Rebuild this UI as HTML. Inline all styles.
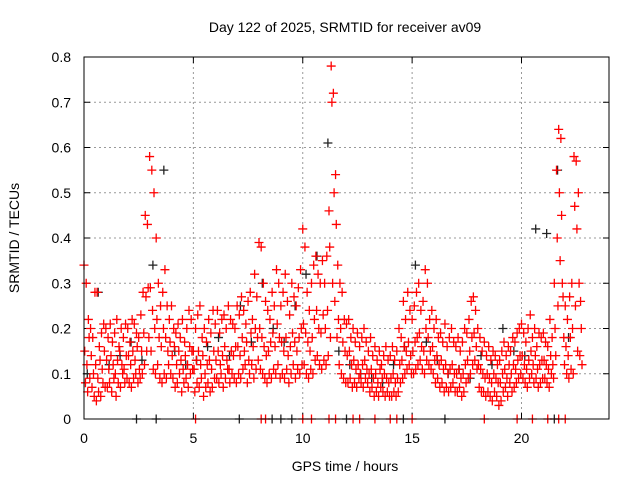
<!DOCTYPE html>
<html><head><meta charset="utf-8"><style>
body{margin:0;background:#fff}
svg{display:block;font-family:"Liberation Sans",sans-serif}
</style></head><body>
<svg id="chart" width="640" height="480">
<text x="345" y="32" text-anchor="middle" font-size="14">Day 122 of 2025, SRMTID for receiver av09</text>
<text transform="translate(19,238) rotate(-90)" text-anchor="middle" font-size="14">SRMTID / TECUs</text>
<text x="345" y="471" text-anchor="middle" font-size="14">GPS time / hours</text>
<g id="grid"></g>
<g id="ticks"></g>
<g id="black"></g>
<g id="red"></g>
<rect x="84" y="57" width="525" height="362" fill="none" stroke="#000" stroke-width="1"/>
</svg>
<script>
const xTicks=[0,5,10,15,20];
const yTicks=[0,0.1,0.2,0.3,0.4,0.5,0.6,0.7,0.8];
const yTickLabels=["0","0.1","0.2","0.3","0.4","0.5","0.6","0.7","0.8"];
const redUpper=[.34,.30,.22,.20,.18,.28,.28,.16,.19,.21,.20,.18,.21,.17,.19,.22,.16,.20,.18,.21,.20,.17,.22,.21,.19,.18,.23,.28,.45,.43,.58,.55,.50,.40,.30,.25,.28,.33,.25,.22,.25,.20,.19,.21,.18,.22,.17,.20,.24,.22,.15,.20,.23,.25,.18,.20,.17,.22,.19,.24,.21,.24,.19,.22,.23,.20,.25,.22,.21,.20,.25,.23,.27,.24,.21,.26,.28,.22,.32,.27,.39,.38,.30,.26,.24,.22,.28,.25,.33,.30,.25,.28,.32,.26,.23,.30,.27,.25,.29,.33,.42,.38,.28,.24,.30,.34,.36,.32,.30,.35,.30,.36,.46,.78,.72,.54,.34,.30,.28,.22,.21,.22,.18,.20,.17,.19,.16,.18,.20,.17,.15,.18,.14,.16,.13,.15,.12,.14,.16,.13,.14,.16,.13,.15,.20,.18,.26,.22,.28,.24,.22,.25,.28,.30,.24,.26,.33,.30,.22,.24,.20,.22,.18,.19,.17,.21,.16,.18,.20,.17,.16,.18,.15,.17,.20,.19,.22,.26,.27,.24,.20,.18,.15,.17,.14,.16,.13,.15,.14,.12,.13,.15,.17,.14,.16,.15,.18,.17,.19,.20,.21,.19,.17,.20,.23,.18,.20,.16,.19,.18,.19,.17,.16,.22,.18,.30,.55,.64,.62,.27,.25,.22,.27,.30,.58,.57,.50,.26];
const redMiddle=[.15,.12,.18,.14,.10,.12,.09,.13,.11,.15,.13,.11,.14,.12,.10,.13,.15,.12,.11,.14,.14,.12,.15,.13,.16,.11,.15,.19,.27,.29,.29,.24,.20,.22,.18,.16,.20,.18,.15,.17,.14,.16,.12,.15,.13,.11,.14,.12,.16,.15,.11,.13,.15,.12,.14,.10,.12,.13,.11,.15,.13,.15,.12,.14,.16,.13,.11,.15,.14,.16,.16,.14,.18,.15,.17,.13,.19,.16,.20,.18,.20,.18,.16,.14,.15,.17,.19,.16,.21,.18,.17,.15,.18,.14,.16,.19,.17,.15,.18,.20,.21,.19,.17,.15,.18,.22,.24,.20,.19,.23,.20,.24,.38,.70,.50,.43,.22,.20,.17,.15,.14,.15,.12,.13,.11,.12,.10,.12,.13,.11,.10,.11,.09,.10,.08,.11,.09,.10,.09,.08,.09,.10,.08,.09,.12,.13,.16,.15,.17,.14,.15,.17,.18,.19,.16,.15,.20,.18,.15,.16,.13,.14,.12,.13,.11,.12,.10,.11,.12,.10,.10,.11,.09,.10,.12,.13,.15,.18,.19,.16,.12,.11,.10,.09,.10,.09,.08,.10,.09,.08,.08,.10,.11,.09,.12,.10,.12,.11,.13,.14,.14,.12,.11,.13,.15,.12,.14,.11,.12,.13,.13,.12,.11,.14,.12,.20,.40,.50,.45,.18,.16,.14,.18,.20,.47,.42,.30,.20];
const redLower=[.08,.06,.09,.07,.05,.04,.06,.05,.08,.07,.07,.08,.06,.09,.05,.08,.07,.10,.08,.09,.08,.07,.09,.10,.08,.09,.10,.12,.15,.18,.15,.11,.10,.12,.09,.08,.10,.09,.12,.10,.09,.07,.08,.10,.06,.08,.09,.07,.10,.11,.06,.08,.07,.09,.05,.07,.08,.06,.07,.09,.09,.08,.10,.07,.09,.11,.08,.10,.09,.08,.10,.09,.11,.12,.08,.10,.12,.09,.11,.13,.11,.10,.09,.08,.10,.09,.11,.10,.12,.09,.10,.09,.11,.08,.10,.12,.09,.11,.10,.12,.12,.10,.09,.11,.10,.13,.14,.12,.11,.13,.12,.14,.18,.30,.26,.18,.12,.10,.09,.08,.08,.09,.07,.08,.07,.09,.08,.07,.09,.08,.06,.07,.05,.06,.05,.07,.06,.05,.06,.05,.05,.06,.05,.06,.08,.09,.10,.11,.12,.10,.10,.11,.12,.13,.11,.10,.13,.12,.11,.10,.08,.09,.07,.08,.06,.07,.06,.07,.08,.06,.06,.07,.05,.06,.08,.09,.10,.12,.13,.11,.07,.06,.06,.05,.06,.05,.04,.06,.05,.03,.04,.06,.07,.05,.08,.06,.07,.08,.09,.10,.09,.08,.07,.09,.10,.08,.09,.07,.08,.09,.09,.08,.07,.10,.09,.14,.25,.35,.30,.12,.10,.09,.11,.10,.25,.15,.14,.12];
const blackValues=[.10,.28,.12,.14,.17,.13,.34,.55,.15,.12,.13,.16,.18,.14,.25,.17,.30,.20,.17,.25,.32,.36,.61,.15,.12,.10,.09,.08,.12,.16,.34,.17,.13,.10,.11,.09,.14,.12,.20,.15,.14,.42,.41,.55,.18];
const zeroRed=[5.1,8.1,8.3,10.0,10.4,11.2,11.5,12.3,12.6,13.3,14.0,14.3,15.0,18.3,19.8,20.5,21.2,21.7,22.0];
const zeroBlack=[2.4,3.3,7.1,8.6,9.0,9.5,12.0,14.6,16.5,21.5];
const X=h=>84+h*525/24, Y=v=>419-v*362/0.8;
const NS="http://www.w3.org/2000/svg";
function mk(tag,attrs,parent){const e=document.createElementNS(NS,tag);for(const k in attrs)e.setAttribute(k,attrs[k]);parent.appendChild(e);return e;}
const grid=document.getElementById('grid'),ticks=document.getElementById('ticks');
yTicks.forEach((v,i)=>{const y=Y(v);
 if(i>0&&i<yTicks.length-1){const g=mk('line',{x1:84,x2:609,y1:y,y2:y,stroke:'#999','stroke-dasharray':'2,3'},grid);}
 mk('line',{x1:84,x2:90,y1:y,y2:y,stroke:'#000'},ticks);mk('line',{x1:603,x2:609,y1:y,y2:y,stroke:'#000'},ticks);
 const t=mk('text',{x:71,y:y+5,'text-anchor':'end','font-size':14},ticks);t.textContent=yTickLabels[i];
 });
xTicks.forEach(h=>{const x=X(h);
 if(h>0){const g=mk('line',{x1:x,x2:x,y1:57,y2:419,stroke:'#999','stroke-dasharray':'2,3'},grid);}
 mk('line',{x1:x,x2:x,y1:413,y2:419,stroke:'#000'},ticks);mk('line',{x1:x,x2:x,y1:57,y2:63,stroke:'#000'},ticks);
 const t=mk('text',{x:x,y:443,'text-anchor':'middle','font-size':14},ticks);t.textContent=String(h);
 });
function plus(g,h,v,col,name){const x=X(h),y=Y(v);
 const p=mk('path',{d:`M${x-4.5},${y}h9M${x},${y-4.5}v9`,stroke:col,'stroke-width':1.3,fill:'none'},g);
 }
const bg=document.getElementById('black'),rg=document.getElementById('red');
blackValues.forEach((v,i)=>plus(bg,i*0.5+0.15,v,'#222','black-point'));
zeroBlack.forEach(h=>plus(bg,h,0,'#222','black-zero-point'));
[redUpper,redMiddle,redLower].forEach((arr,k)=>arr.forEach((v,i)=>plus(rg,i*0.1+k*0.033,v,'#ff0000','red-point')));
zeroRed.forEach(h=>plus(rg,h,0,'#ff0000','red-zero-point'));
</script>
</body></html>
